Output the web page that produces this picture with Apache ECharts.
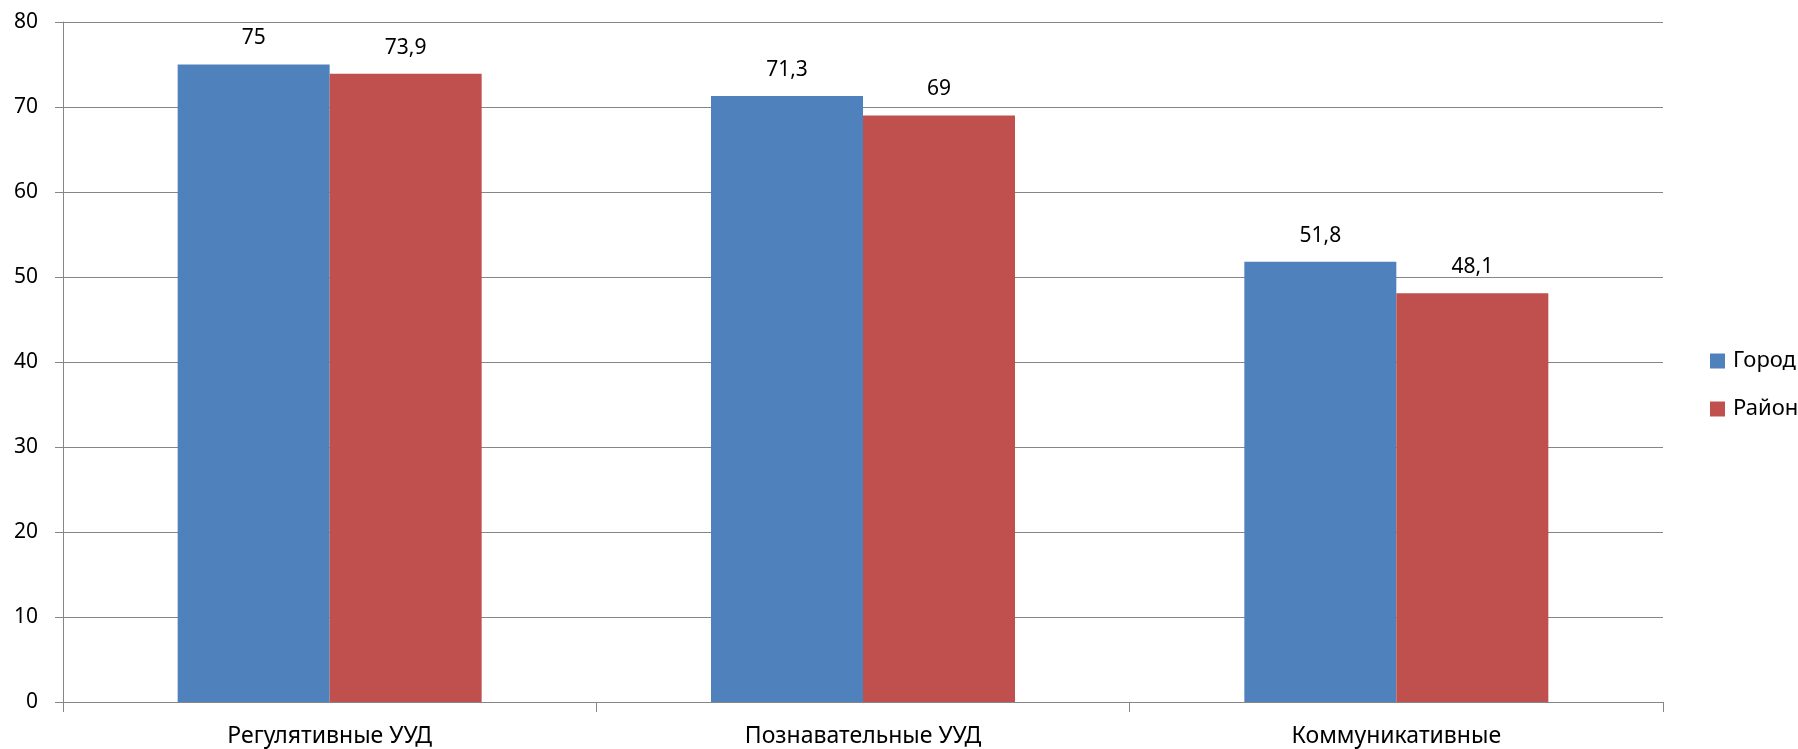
<!DOCTYPE html>
<html>
<head>
<meta charset="utf-8">
<script src="https://cdn.jsdelivr.net/npm/echarts@6/dist/echarts.min.js"></script>
<style>html,body{margin:0;padding:0;background:#fff;}#c{width:1798px;height:749px;}</style>
</head>
<body>
<div id="c"></div>
<script>
const categories = ['Регулятивные УУД', 'Познавательные УУД', 'Коммуникативные'];
const gorod = [75, 71.3, 51.8];
const rayon = [73.9, 69, 48.1];
const seriesNames = ['Город', 'Район'];
const yTicks = {min: 0, max: 80, interval: 10};

const FONT = '"Noto Sans", sans-serif';
const fmt = p => String(p.value).replace('.', ',');
const labelCfg = {show: true, position: 'top', distance: 15, formatter: fmt, color: '#000', fontSize: 21, fontFamily: FONT, lineHeight: 22};

const chart = echarts.init(document.getElementById('c'));
chart.setOption({
  animation: false,
  backgroundColor: '#fff',
  grid: {left: 63, right: 135, top: 22, bottom: 47, containLabel: false},
  legend: {
    orient: 'vertical', left: 1705, top: 345, itemWidth: 15, itemHeight: 15, itemGap: 26,
    icon: 'rect',
    textStyle: {fontSize: 22, lineHeight: 22, fontFamily: FONT, color: '#000', padding: [0,0,0,3]},
    data: seriesNames
  },
  xAxis: {
    type: 'category', data: categories,
    axisLine: {lineStyle: {color: '#868686', width: 1}},
    axisTick: {show: true, length: 10, lineStyle: {color: '#868686'}},
    axisLabel: {margin: 23, fontSize: 23, lineHeight: 23, fontFamily: FONT, color: '#000'}
  },
  yAxis: {
    type: 'value', min: yTicks.min, max: yTicks.max, interval: yTicks.interval,
    axisLine: {show: true, lineStyle: {color: '#868686', width: 1}},
    axisTick: {show: true, length: 8, lineStyle: {color: '#868686'}},
    splitLine: {lineStyle: {color: '#868686', width: 1}},
    axisLabel: {margin: 25, fontSize: 21, fontFamily: FONT, color: '#000'}
  },
  series: [
    {name: seriesNames[0], type: 'bar', data: gorod, barWidth: 152, barGap: '0%', itemStyle: {color: '#4F81BD'}, label: labelCfg},
    {name: seriesNames[1], type: 'bar', data: rayon, barWidth: 152, barGap: '0%', itemStyle: {color: '#C0504D'}, label: labelCfg}
  ]
});
</script>
</body>
</html>
